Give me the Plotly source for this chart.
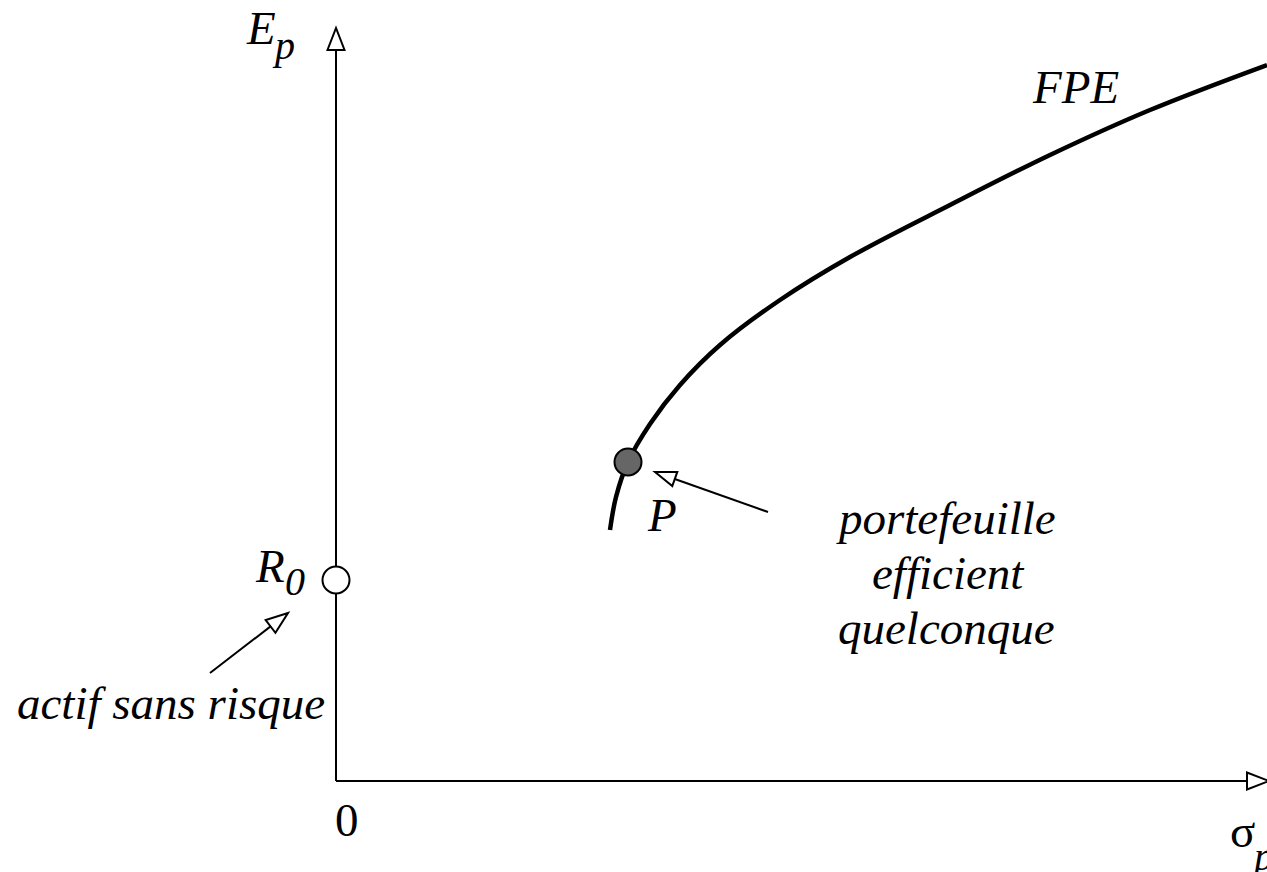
import plotly.graph_objects as go

# ---- data (abstract units: sigma_p horizontally, E_p vertically) ----
frontier_sigma = [2.74, 2.80, 2.92, 3.14, 3.44, 3.84, 4.44, 5.14, 6.14, 7.14, 8.14, 9.31]
frontier_E = [2.51, 2.84, 3.19, 3.57, 3.96, 4.36, 4.81, 5.24, 5.76, 6.26, 6.71, 7.16]
riskfree_sigma = [0.0]
riskfree_E = [2.01]
portfolio_sigma = [2.92]
portfolio_E = [3.19]
axis_x_end = 9.33
axis_y_end = 7.53

X_RANGE = [-3.36, 9.31]
Y_RANGE = [-0.91, 7.81]
FONT = "Liberation Serif"
FS = 47

fig = go.Figure()

# frontier curve
fig.add_trace(go.Scatter(x=frontier_sigma, y=frontier_E, mode="lines",
                         line=dict(color="black", width=4.5, shape="spline", smoothing=1.0),
                         hoverinfo="skip", showlegend=False))


def open_arrow(x0, y0, x1, y1, head_len, head_w, lw=2):
    """Line from (x0,y0) to tip (x1,y1) with open triangular head (isotropic units)."""
    dx, dy = x1 - x0, y1 - y0
    L = (dx * dx + dy * dy) ** 0.5
    ux, uy = dx / L, dy / L
    bx, by = x1 - ux * head_len, y1 - uy * head_len
    px_, py_ = -uy, ux
    fig.add_shape(type="line", x0=x0, y0=y0, x1=bx, y1=by, line=dict(color="black", width=lw), layer="below")
    path = (f"M {x1} {y1} L {bx + px_ * head_w / 2} {by + py_ * head_w / 2} "
            f"L {bx - px_ * head_w / 2} {by - py_ * head_w / 2} Z")
    fig.add_shape(type="path", path=path, fillcolor="white", line=dict(color="black", width=lw), layer="below")


# axes
open_arrow(0, 0, 0, axis_y_end, 0.22, 0.17, lw=2)
open_arrow(0, 0, axis_x_end, 0, 0.22, 0.17, lw=2)
# pointer arrows
open_arrow(4.32, 2.69, 3.19, 3.09, 0.21, 0.15, lw=2)
open_arrow(-1.26, 1.08, -0.48, 1.68, 0.22, 0.16, lw=2)

# points
fig.add_trace(go.Scatter(x=riskfree_sigma, y=riskfree_E, mode="markers",
                         marker=dict(size=27, color="white", line=dict(color="black", width=2)),
                         hoverinfo="skip", showlegend=False))
fig.add_trace(go.Scatter(x=portfolio_sigma, y=portfolio_E, mode="markers",
                         marker=dict(size=27, color="#666666", line=dict(color="black", width=2)),
                         hoverinfo="skip", showlegend=False))


def label(text, x, y, size=FS, xanchor="center"):
    fig.add_annotation(x=x, y=y, text=text, showarrow=False, xanchor=xanchor, yanchor="middle",
                       font=dict(family=FONT, size=size, color="black"))


def px2d(px, py):
    return (px - 336) / 100.0, (781 - py) / 100.0


label("<i>E</i>", *px2d(261, 28))
label("<i>p</i>", *px2d(283, 45), size=40)
label("<i>R</i>", *px2d(270, 566))
label("<i>0</i>", *px2d(295, 581), size=40)
label("<i>P</i>", *px2d(662, 515))
label("<i>FPE</i>", *px2d(1075, 87))
label("0", *px2d(347, 820))
label("σ", *px2d(1242, 831))
label("<i>p</i>", *px2d(1262, 856), size=40)
label("<i>actif sans risque</i>", *px2d(171, 703))
label("<i>portefeuille</i>", *px2d(946, 518))
label("<i>efficient</i>", *px2d(948, 573))
label("<i>quelconque</i>", *px2d(946, 628))

fig.update_layout(
    width=1267, height=872,
    margin=dict(l=0, r=0, t=0, b=0),
    paper_bgcolor="white", plot_bgcolor="white",
    xaxis=dict(range=X_RANGE, visible=False, fixedrange=True),
    yaxis=dict(range=Y_RANGE, visible=False, fixedrange=True),
    showlegend=False,
)

fig.write_html("out.html", config={"displayModeBar": False},
               post_script="document.body.style.margin='0';document.body.style.overflow='hidden';")
